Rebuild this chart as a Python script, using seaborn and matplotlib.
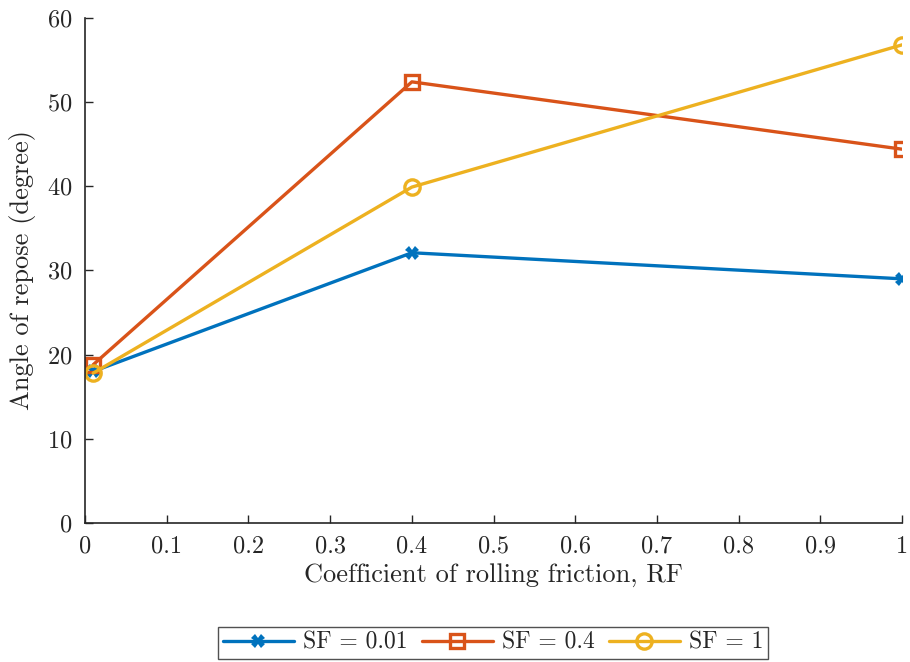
import matplotlib
matplotlib.use("Agg")
import matplotlib.pyplot as plt
import seaborn as sns
import pandas as pd

rf = [0.01, 0.4, 1.0]
sf_labels = ["SF = 0.01", "SF = 0.4", "SF = 1"]
sf001 = [18.0, 32.1, 29.0]
sf04 = [18.8, 52.4, 44.4]
sf1 = [17.8, 39.9, 56.8]
xticks = [0, 0.1, 0.2, 0.3, 0.4, 0.5, 0.6, 0.7, 0.8, 0.9, 1]
xticklabels = ["0", "0.1", "0.2", "0.3", "0.4", "0.5", "0.6", "0.7", "0.8", "0.9", "1"]
yticks = [0, 10, 20, 30, 40, 50, 60]

colors = ["#0072BD", "#D95319", "#EDB120"]
markers = ["X", "s", "o"]

sns.set_style("ticks")
plt.rcParams["font.family"] = ["cmr10", "DejaVu Serif"]
plt.rcParams["axes.formatter.use_mathtext"] = True

fig = plt.figure(figsize=(9.1, 6.62), dpi=100)
ax = fig.add_axes([0.0934, 0.21, 0.898, 0.763])

for vals, lab, c, m in zip([sf001, sf04, sf1], sf_labels, colors, markers):
    df = pd.DataFrame({"RF": rf, "AoR": vals})
    if m == "X":
        sns.lineplot(data=df, x="RF", y="AoR", ax=ax, color=c, lw=2.4, marker="X",
                     markersize=10, markeredgewidth=0, label=lab)
    else:
        sns.lineplot(data=df, x="RF", y="AoR", ax=ax, color=c, lw=2.4, marker=m,
                     markersize=11 if m == "o" else 10, mfc="none", mec=c,
                     markeredgewidth=2.4, label=lab)

ax.set_xlim(0, 1)
ax.set_ylim(0, 60)
ax.set_xticks(xticks)
ax.set_xticklabels(xticklabels)
ax.set_yticks(yticks)
ax.tick_params(direction="in", length=6, width=1, labelsize=17.5, colors="#262626", pad=9)
for s in ["top", "right"]:
    ax.spines[s].set_visible(False)
for s in ["left", "bottom"]:
    ax.spines[s].set_linewidth(1.2)
    ax.spines[s].set_color("#262626")
ax.set_xlabel("Coefficient of rolling friction, RF", fontsize=19, color="#262626", labelpad=4)
ax.set_ylabel("Angle of repose (degree)", fontsize=19, color="#262626", labelpad=8)

leg = ax.legend(loc="center", bbox_to_anchor=(0.542, 0.029), bbox_transform=fig.transFigure,
                ncol=3, fontsize=17, frameon=True, fancybox=False, edgecolor="#262626",
                handlelength=3.0, columnspacing=0.6, handletextpad=0.4, borderpad=0.2,
                borderaxespad=0)
leg.get_frame().set_linewidth(1.0)

fig.savefig("out.png", dpi=100)
